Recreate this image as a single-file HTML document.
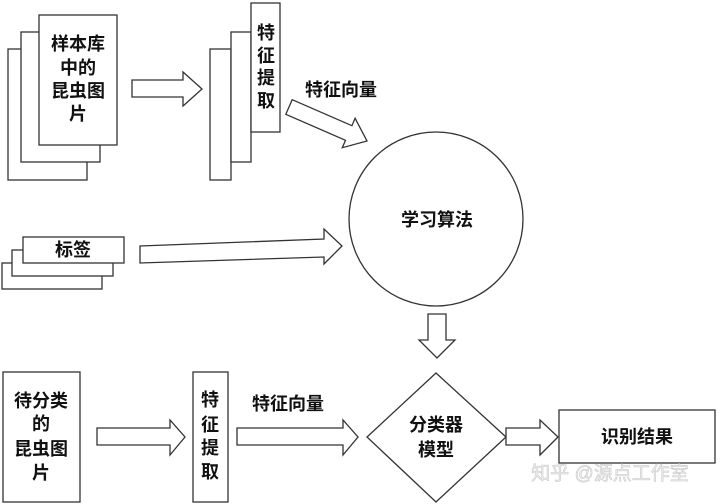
<!DOCTYPE html>
<html><head><meta charset="utf-8"><style>
html,body{margin:0;padding:0;background:#fff;}
svg{display:block;}
text{font-family:"Liberation Sans","Noto Sans CJK SC",sans-serif;font-weight:bold;font-size:18px;fill:#111;text-anchor:middle;dominant-baseline:central;}
</style></head><body>
<svg width="718" height="504" viewBox="0 0 718 504" xmlns="http://www.w3.org/2000/svg">
<g fill="#fff" stroke="#333" stroke-width="1.3">
<rect x="8" y="49" width="79" height="131"/>
<rect x="21" y="32" width="79" height="130"/>
<rect x="39" y="15" width="78" height="130"/>
<polygon points="132,80 183,80 183,72 202,89 183,106 183,97 132,97"/>
<rect x="210" y="49" width="21" height="131"/>
<rect x="231" y="32" width="20" height="130"/>
<rect x="251" y="3" width="29" height="129"/>
<polygon points="292.2,99.7 351.9,125.7 355.1,118.3 367,141 342.3,147.7 345.5,140.3 285.8,114.3"/>
<circle cx="436" cy="219" r="87"/>
<rect x="2" y="263" width="100" height="26"/>
<rect x="12" y="250" width="101" height="26"/>
<rect x="23" y="237" width="101" height="26"/>
<polygon points="140,246 324,239 324,229 342,246 324,264 324,257 140,263"/>
<polygon points="428,314 446,314 446,340 455,340 437,358 419,340 428,340"/>
<rect x="3" y="372" width="77" height="130"/>
<polygon points="97,428 170,428 170,420 185,437 170,455 170,445 97,445"/>
<rect x="193" y="372" width="35" height="130"/>
<polygon points="237,428 343,428 343,420 358,437 343,455 343,445 237,445"/>
<polygon points="436,373 506,437 436,502 367,437"/>
<polygon points="506,428 540,428 540,420 558,437 540,455 540,445 506,445"/>
<rect x="559" y="410" width="156" height="53"/>
</g>
<text x="78" y="44">样本库</text>
<text x="78" y="68">中的</text>
<text x="78" y="91">昆虫图</text>
<text x="78" y="114">片</text>
<text x="266" y="33">特</text>
<text x="266" y="56">征</text>
<text x="266" y="78">提</text>
<text x="266" y="101">取</text>
<text x="341" y="90">特征向量</text>
<text x="437" y="220">学习算法</text>
<text x="73" y="250">标签</text>
<text x="41" y="401">待分类</text>
<text x="41" y="424">的</text>
<text x="41" y="449">昆虫图</text>
<text x="41" y="473">片</text>
<text x="210" y="400">特</text>
<text x="210" y="425">征</text>
<text x="210" y="448">提</text>
<text x="210" y="472">取</text>
<text x="288" y="404">特征向量</text>
<text x="436" y="425">分类器</text>
<text x="436" y="450">模型</text>
<text x="637" y="437">识别结果</text>
<text x="610" y="474" style="font-weight:normal;font-size:19px;fill:#eee;stroke:#c4c4c4;stroke-width:0.5">知乎 @源点工作室</text>
</svg>
</body></html>
